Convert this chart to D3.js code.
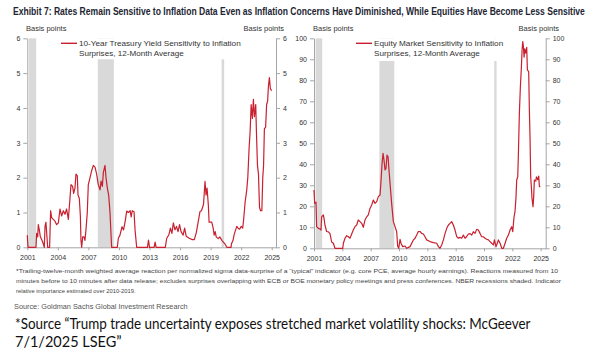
<!DOCTYPE html>
<html>
<head>
<meta charset="utf-8">
<script src="https://cdn.jsdelivr.net/npm/d3@7/dist/d3.min.js"></script>
<style>
  body { margin: 0; background: #fff; }
  svg { display: block; font-family: 'Liberation Sans', Arial, sans-serif; }
  .axis path, .axis line { stroke: #a6a6a6; stroke-width: 1; }
  .axis text { fill: #333; font-size: 7px; font-family: 'Liberation Sans', Arial, sans-serif; }
  .legend-text { fill: #333; font-size: 7.5px; }
  .unit-label { fill: #333; font-size: 7.5px; }
  .series-line { fill: none; stroke: #c8202f; stroke-width: 1.2; stroke-linejoin: round; }
  .recession { fill: #d9d9d9; }
</style>
</head>
<body>
<div id="chart"></div>
<script>
// 10-year treasury yield sensitivity, [year, basis points]
const treasury = [
  [2001.00, 0.35], [2001.07, 0], [2001.85, 0], [2001.92, 0.4], [2002.02, 0.3], [2002.08, 0.65],
  [2002.18, 0.5], [2002.28, 0.3], [2002.44, 0.2], [2002.57, 0.1], [2002.67, 0], [2002.74, 0.6],
  [2002.83, 0.72], [2002.93, 0.3], [2003.00, 0], [2003.19, 0], [2003.29, 1.05], [2003.39, 0.85],
  [2003.55, 0.8], [2003.72, 0.75], [2003.88, 0.65], [2004.05, 0.7], [2004.21, 1.1], [2004.37, 0.9],
  [2004.54, 1.05], [2004.70, 0.95], [2004.86, 1.1], [2005.03, 0.8], [2005.19, 1.4], [2005.29, 1.8],
  [2005.45, 1.75], [2005.55, 1.55], [2005.68, 1.7], [2005.78, 2.1], [2005.91, 2.05], [2005.98, 1.5],
  [2006.11, 1.4], [2006.21, 0.9], [2006.27, 0.2], [2006.34, 0], [2006.44, 0.3], [2006.57, 0.3],
  [2006.66, 0.2], [2006.76, 0.5], [2006.89, 1.0], [2006.99, 1.8], [2007.16, 2.0], [2007.32, 2.2],
  [2007.48, 2.35], [2007.65, 2.3], [2007.81, 2.1], [2007.97, 1.8], [2008.14, 1.65], [2008.24, 1.9],
  [2008.37, 1.75], [2008.47, 2.15], [2008.63, 2.35], [2008.73, 2.0], [2008.86, 1.7], [2008.99, 1.5],
  [2009.12, 1.0], [2009.28, 0], [2009.84, 0], [2009.94, 0.26], [2010.10, 0.35], [2010.30, 0.59],
  [2010.45, 0.5], [2010.60, 0.73], [2010.76, 1.04], [2010.92, 1.0], [2011.10, 1.05], [2011.20, 0.87],
  [2011.30, 1.05], [2011.48, 1.02], [2011.58, 0.5], [2011.74, 0], [2012.80, 0], [2012.90, 0.21],
  [2013.00, 0], [2013.45, 0], [2013.55, 0.15], [2013.65, 0], [2014.55, 0], [2014.69, 0.26],
  [2014.90, 0.36], [2015.05, 0.55], [2015.20, 0.4], [2015.34, 0.7], [2015.50, 0.5], [2015.65, 0.6],
  [2015.80, 0.45], [2015.95, 0.65], [2016.10, 0.45], [2016.30, 0.35], [2016.45, 0.55], [2016.60, 0.32],
  [2016.90, 0.26], [2017.20, 0.22], [2017.40, 0.22], [2017.60, 0.43], [2017.96, 1.03], [2018.10, 1.05],
  [2018.30, 1.23], [2018.45, 1.89], [2018.55, 1.5], [2018.65, 1.7], [2018.78, 1.2], [2018.85, 0.72],
  [2019.11, 0.72], [2019.25, 0.55], [2019.35, 0.35], [2019.45, 0.45], [2019.55, 0.3], [2019.75, 0.25],
  [2019.90, 0.3], [2020.10, 0.2], [2020.25, 0.15], [2020.40, 0.1], [2020.59, 0], [2021.00, 0],
  [2021.05, 0.1], [2021.20, 0.2], [2021.30, 0.35], [2021.40, 0.45], [2021.57, 0.6], [2021.70, 0.55],
  [2021.85, 0.52], [2022.00, 0.6], [2022.15, 0.55], [2022.25, 0.82], [2022.39, 1.3], [2022.55, 1.65],
  [2022.65, 2.0], [2022.78, 2.85], [2022.88, 3.33], [2022.98, 4.1], [2023.10, 3.7], [2023.20, 4.25],
  [2023.30, 3.75], [2023.43, 4.1], [2023.50, 3.3], [2023.60, 2.35], [2023.70, 2.1], [2023.80, 1.15],
  [2023.90, 1.05], [2024.03, 1.05], [2024.12, 2.0], [2024.20, 2.35], [2024.28, 3.4], [2024.40, 3.45],
  [2024.50, 4.1], [2024.60, 4.2], [2024.67, 4.6], [2024.77, 4.87], [2024.87, 4.55], [2025.00, 4.5]
]

// equity market sensitivity, [year, basis points]
const equity = [
  [2001.00, 27.8], [2001.07, 21.4], [2001.21, 22], [2001.28, 10.3], [2001.46, 9.5], [2001.64, 9.2],
  [2001.74, 8.7], [2001.81, 15], [2001.99, 15.9], [2002.09, 13.5], [2002.16, 11], [2002.34, 8],
  [2002.52, 7.8], [2002.69, 7], [2002.87, 3], [2003.05, 2.4], [2003.22, 0], [2004.04, 0],
  [2004.11, 2.4], [2004.28, 4.8], [2004.46, 6], [2004.64, 5.5], [2004.81, 4.8], [2004.99, 6.8],
  [2005.16, 8.7], [2005.34, 10.3], [2005.52, 11.1], [2005.69, 13.5], [2005.87, 12.7], [2006.05, 11.9],
  [2006.22, 10], [2006.40, 13.5], [2006.58, 15], [2006.75, 15.9], [2006.93, 19], [2007.11, 20.6],
  [2007.28, 23], [2007.46, 21.4], [2007.64, 22.2], [2007.81, 24.6], [2007.99, 25.4], [2008.09, 31.7],
  [2008.20, 40], [2008.31, 45.2], [2008.41, 42], [2008.52, 37.3], [2008.62, 38], [2008.73, 44.4],
  [2008.84, 43.6], [2008.94, 37.3], [2009.05, 31], [2009.22, 21.4], [2009.40, 12.7], [2009.58, 10.3],
  [2009.75, 8], [2009.86, 1], [2009.97, 0], [2010.11, 4.3], [2010.21, 2.4], [2010.39, 0.8],
  [2010.64, 1.1], [2010.81, 0], [2011.17, 0.8], [2011.52, 4], [2011.70, 4.8], [2011.87, 6.3],
  [2012.05, 8], [2012.22, 8], [2012.40, 7.1], [2012.58, 6.8], [2012.75, 5.5], [2012.93, 4],
  [2013.28, 3.2], [2013.64, 2.7], [2013.99, 2.4], [2014.17, 0.8], [2014.34, 0], [2014.52, 1.6],
  [2014.70, 4], [2014.87, 7], [2015.05, 9.5], [2015.23, 11.1], [2015.40, 11.9], [2015.58, 12.7],
  [2015.75, 11.1], [2015.93, 8.7], [2016.11, 5.6], [2016.28, 4.8], [2016.46, 5.2], [2016.64, 4.8],
  [2016.81, 6.3], [2016.99, 4.8], [2017.17, 5.6], [2017.34, 6.8], [2017.52, 7], [2017.70, 6.3],
  [2017.87, 7.9], [2018.05, 7.1], [2018.22, 9], [2018.40, 8.7], [2018.58, 7.1], [2018.75, 5.5],
  [2018.93, 5.5], [2019.11, 4.8], [2019.28, 4.3], [2019.46, 4], [2019.64, 3.2], [2019.81, 2.4],
  [2019.99, 1.6], [2020.10, 4], [2020.27, 0.8], [2020.41, 2.4], [2020.52, 4], [2020.70, 2.4],
  [2020.88, 0], [2021.05, 0], [2021.23, 2.4], [2021.40, 4.8], [2021.58, 6.3], [2021.76, 8.7],
  [2021.93, 10.3], [2022.04, 7.9], [2022.18, 15], [2022.28, 17.5], [2022.39, 24.6], [2022.46, 32.5],
  [2022.57, 34], [2022.64, 45], [2022.74, 64], [2022.85, 77], [2022.96, 86.5], [2023.03, 94.4],
  [2023.10, 98.4], [2023.17, 96], [2023.24, 91], [2023.31, 95], [2023.41, 92.9], [2023.52, 95.7],
  [2023.59, 85], [2023.73, 84], [2023.80, 66], [2023.87, 53], [2023.94, 34], [2024.01, 29.4],
  [2024.08, 23.8], [2024.19, 19.8], [2024.26, 24.6], [2024.33, 32.5], [2024.48, 32], [2024.55, 34],
  [2024.69, 32.7], [2024.79, 34.4], [2024.86, 29.4], [2024.96, 29.4]
]

// NBER recessions, [start, end]
const recessions = [[2001.17, 2001.87], [2007.92, 2009.5], [2020.08, 2020.33]]

const yearTicks = [2001, 2004, 2007, 2010, 2013, 2016, 2019, 2022, 2025]
const treasuryTicks = [0, 1, 2, 3, 4, 5, 6]
const equityTicks = [0, 10, 20, 30, 40, 50, 60, 70, 80, 90, 100]

const titleText = 'Exhibit 7: Rates Remain Sensitive to Inflation Data Even as Inflation Concerns Have Diminished, While Equities Have Become Less Sensitive'
const footnoteLines = [
  '*Trailing-twelve-month weighted average reaction per normalized sigma data-surprise of a \u201ctypical\u201d indicator (e.g. core PCE, average hourly earnings). Reactions measured from 10',
  'minutes before to 10 minutes after  data release; excludes surprises overlapping with ECB or BOE monetary policy meetings and press conferences. NBER recessions shaded. Indicator',
  'relative importance estimated over 2010-2019.'
]
const sourceText = 'Source: Goldman Sachs Global Investment Research'
const citeLines = [
  '*Source \u201cTrump trade uncertainty exposes stretched market volatility shocks: McGeever',
  '7/1/2025 LSEG\u201d'
]

const width = 600
const height = 352

const svg = d3.select('#chart')
  .append('svg')
  .attr('width', width)
  .attr('height', height)

// Squeeze a text horizontally so it spans the given width
const fitText = (sel, x, y, target) => {
  const len = sel.node().getComputedTextLength()
  const k = target ? target / len : 1
  sel.attr('transform', `translate(${x}, ${y}) scale(${k}, 1)`)
  return sel
}

// Title
fitText(
  svg.append('text')
    .style('font-family', "'Liberation Sans Narrow', 'Liberation Sans', sans-serif")
    .style('font-weight', 'bold')
    .style('font-size', '10px')
    .style('fill', '#1d2533')
    .text(titleText),
  13, 15, 573
)

const drawPanel = (opts) => {
  const { data, left, right, top, bottom, xEnd, yMax, yTicks, label, legendX, legendW, legendLen, legendBgTop, unitLeft, unitRight } = opts

  const x = d3.scaleLinear().domain([2001, xEnd]).range([left, right])
  const y = d3.scaleLinear().domain([0, yMax]).range([bottom, top])

  const g = svg.append('g')

  // Recession shading
  g.selectAll('.recession')
    .data(recessions)
    .enter()
    .append('rect')
    .attr('class', 'recession')
    .attr('x', d => x(d[0]))
    .attr('y', top)
    .attr('width', d => x(d[1]) - x(d[0]))
    .attr('height', bottom - top)

  // Legend background covers the top of the bands
  g.append('rect')
    .attr('x', legendX - 8)
    .attr('y', top)
    .attr('width', legendW)
    .attr('height', legendBgTop - top)
    .attr('fill', '#fff')

  // Axes
  g.append('g')
    .attr('class', 'axis')
    .attr('transform', `translate(0, ${bottom})`)
    .call(
      d3.axisBottom(x)
        .tickValues(yearTicks)
        .tickFormat(d3.format('d'))
        .tickSize(3)
        .tickSizeOuter(0)
        .tickPadding(5)
    )

  g.append('g')
    .attr('class', 'axis')
    .attr('transform', `translate(${left}, 0)`)
    .call(
      d3.axisLeft(y)
        .tickValues(yTicks)
        .tickFormat(d3.format('d'))
        .tickSize(4)
        .tickSizeOuter(0)
        .tickPadding(3)
    )

  g.append('g')
    .attr('class', 'axis')
    .attr('transform', `translate(${right}, 0)`)
    .call(
      d3.axisRight(y)
        .tickValues(yTicks)
        .tickFormat(d3.format('d'))
        .tickSize(4)
        .tickSizeOuter(0)
        .tickPadding(3)
    )

  // Series line
  const line = d3.line()
    .x(d => x(d[0]))
    .y(d => y(d[1]))

  g.append('path')
    .datum(data)
    .attr('class', 'series-line')
    .attr('d', line)

  // Legend
  g.append('line')
    .attr('x1', legendX)
    .attr('x2', legendX + 16)
    .attr('y1', top + 5)
    .attr('y2', top + 5)
    .attr('stroke', '#c8202f')
    .attr('stroke-width', 1.4)

  label.forEach((t, i) => {
    fitText(
      g.append('text')
        .attr('class', 'legend-text')
        .text(t),
      legendX + 18, top + 8 + i * 9.5, legendLen[i]
    )
  })

  // Unit labels
  g.append('text')
    .attr('class', 'unit-label')
    .attr('x', unitLeft)
    .attr('y', 31)
    .attr('text-anchor', 'start')
    .text('Basis points')

  g.append('text')
    .attr('class', 'unit-label')
    .attr('x', unitRight)
    .attr('y', 31)
    .attr('text-anchor', 'end')
    .text('Basis points')
}

drawPanel({
  data: treasury,
  left: 27.3, right: 276, top: 38.3, bottom: 247.3,
  xEnd: 2025.42, yMax: 6, yTicks: treasuryTicks,
  label: ['10-Year Treasury Yield Sensitivity to Inflation', 'Surprises, 12-Month Average'],
  legendX: 61, legendW: 192, legendLen: [162, 105], legendBgTop: 59.3,
  unitLeft: 26, unitRight: 284
})

drawPanel({
  data: equity,
  left: 314, right: 545.7, top: 38.3, bottom: 248.3,
  xEnd: 2025.53, yMax: 100, yTicks: equityTicks,
  label: ['Equity Market Sensitivity to Inflation', 'Surprises, 12-Month Average'],
  legendX: 356, legendW: 158, legendLen: [129.5, 106], legendBgTop: 61,
  unitLeft: 313, unitRight: 559
})

// Footnotes
const footLens = [542, 546, null]
footnoteLines.forEach((t, i) => {
  fitText(
    svg.append('text')
      .style('font-size', '5.8px')
      .style('fill', '#444')
      .text(t),
    16, 273 + i * 10, footLens[i]
  )
})

fitText(
  svg.append('text')
    .style('font-family', "'Liberation Sans Narrow', 'Liberation Sans', sans-serif")
    .style('font-size', '8px')
    .style('fill', '#555')
    .text(sourceText),
  14, 309, 174
)

citeLines.forEach((t, i) => {
  fitText(
    svg.append('text')
      .style('font-family', "Lato, 'Open Sans', sans-serif")
      .style('font-size', '14.5px')
      .style('fill', '#111')
      .text(t),
    15, 329 + i * 17.5, i === 0 ? 516 : null
  )
})
</script>
</body>
</html>
